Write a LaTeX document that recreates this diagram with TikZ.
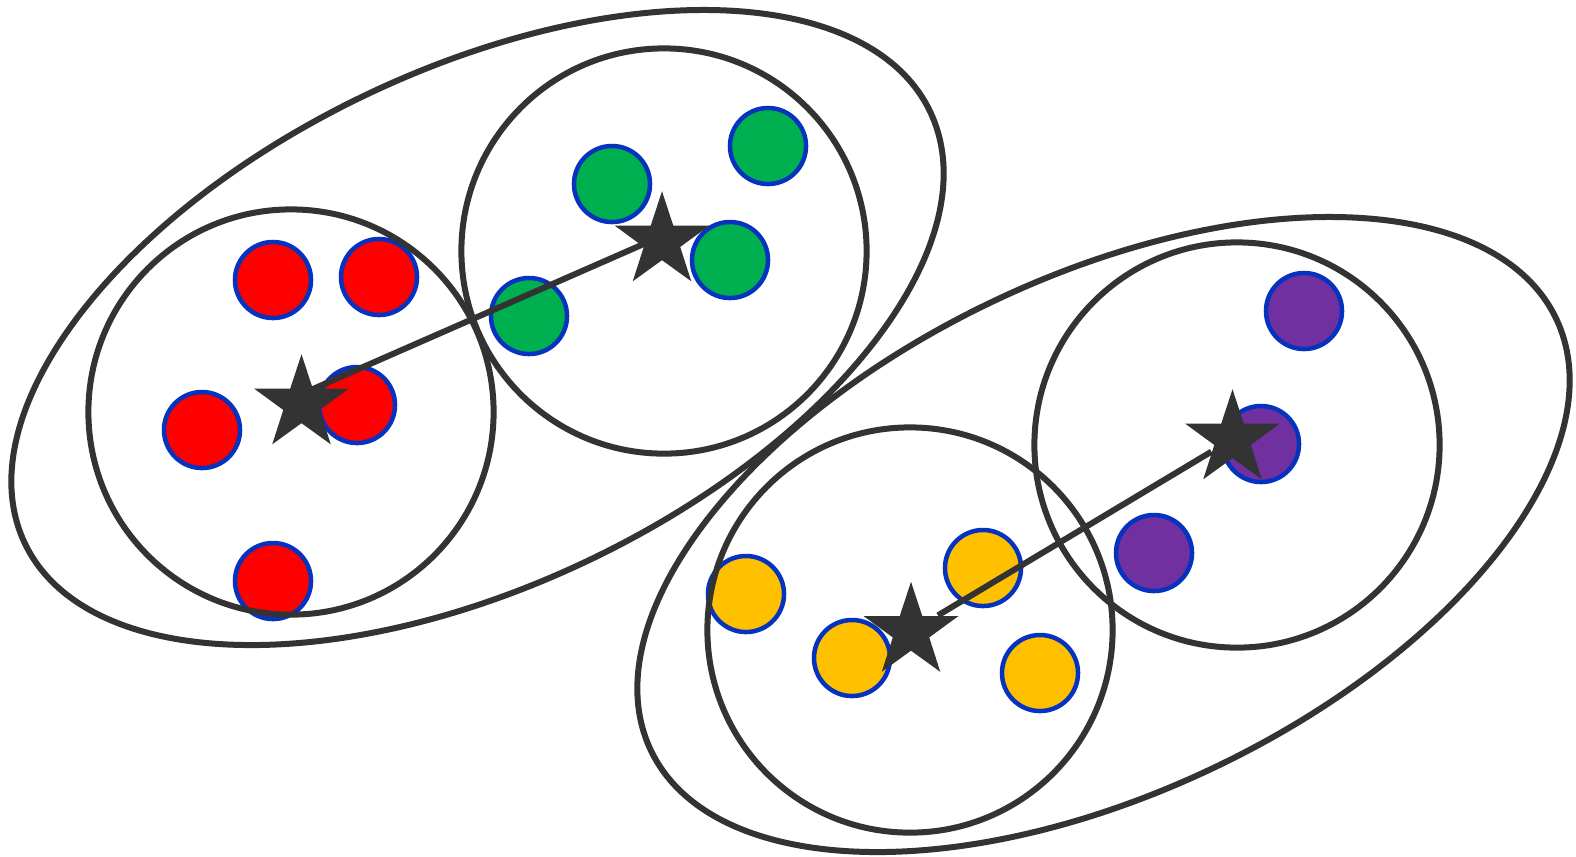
\documentclass[tikz,border=0pt]{standalone}
\usetikzlibrary{shapes.geometric, calc}
\definecolor{dgray}{RGB}{51,51,51}
\definecolor{dotblue}{RGB}{5,50,190}
\definecolor{cred}{RGB}{255,0,0}
\definecolor{cgreen}{RGB}{0,176,80}
\definecolor{cyellow}{RGB}{255,192,0}
\definecolor{cpurple}{RGB}{112,48,160}

\begin{document}
\begin{tikzpicture}[
    x=0.01cm, y=-0.01cm,
    dot/.style={circle, draw=dotblue, line width=0.045cm, minimum size=0.76cm, inner sep=0},
    cluster/.style={circle, draw=dgray, line width=0.06cm, minimum size=4.05cm, inner sep=0},
    group/.style={draw=dgray, line width=0.06cm},
    centroid/.style={star, star points=5, star point ratio=2.6, fill=dgray, minimum size=0.995cm, inner sep=0},
    link/.style={draw=dgray, line width=0.06cm},
]
    \useasboundingbox (0,0) rectangle (1576,856);

    % points
    \node[dot, fill=cred] (r1) at (273,280) {};
    \node[dot, fill=cred] (r2) at (379,277) {};
    \node[dot, fill=cred] (r3) at (357,405) {};
    \node[dot, fill=cred] (r4) at (202,430) {};
    \node[dot, fill=cred] (r5) at (273,581) {};

    \node[dot, fill=cgreen] (g1) at (612,184) {};
    \node[dot, fill=cgreen] (g2) at (768,146) {};
    \node[dot, fill=cgreen] (g3) at (730,260) {};
    \node[dot, fill=cgreen] (g4) at (529,316) {};

    \node[dot, fill=cyellow] (y1) at (746,594) {};
    \node[dot, fill=cyellow] (y2) at (852,658) {};
    \node[dot, fill=cyellow] (y3) at (983,568) {};
    \node[dot, fill=cyellow] (y4) at (1040,673) {};

    \node[dot, fill=cpurple] (p1) at (1304,311) {};
    \node[dot, fill=cpurple] (p2) at (1261,444) {};
    \node[dot, fill=cpurple] (p3) at (1154,553) {};

    % clusters
    \node[cluster] (cr) at (291,412) {};
    \node[cluster] (cg) at (664,251) {};
    \node[cluster] (cy) at (910,630) {};
    \node[cluster] (cp) at (1237,445) {};

    % merged groups
    \draw[group, rotate around={25.5:(477.5,327.5)}] (477.5,327.5) ellipse [x radius=501.5, y radius=258];
    \draw[group, rotate around={25.5:(1103.5,534.5)}] (1103.5,534.5) ellipse [x radius=501.5, y radius=258];

    % centroids
    \node[centroid] (sr) at (301.5,404) {};
    \node[centroid] (sg) at (662,241) {};
    \node[centroid] (sy) at (911,631.5) {};
    \node[centroid] (sp) at (1232.5,439) {};

    \draw[link] ($(sg)+(0,-5)$) -- ($(sr)+(0,-10)$);
    \draw[link] (sp) -- (sy);
\end{tikzpicture}
\end{document}
